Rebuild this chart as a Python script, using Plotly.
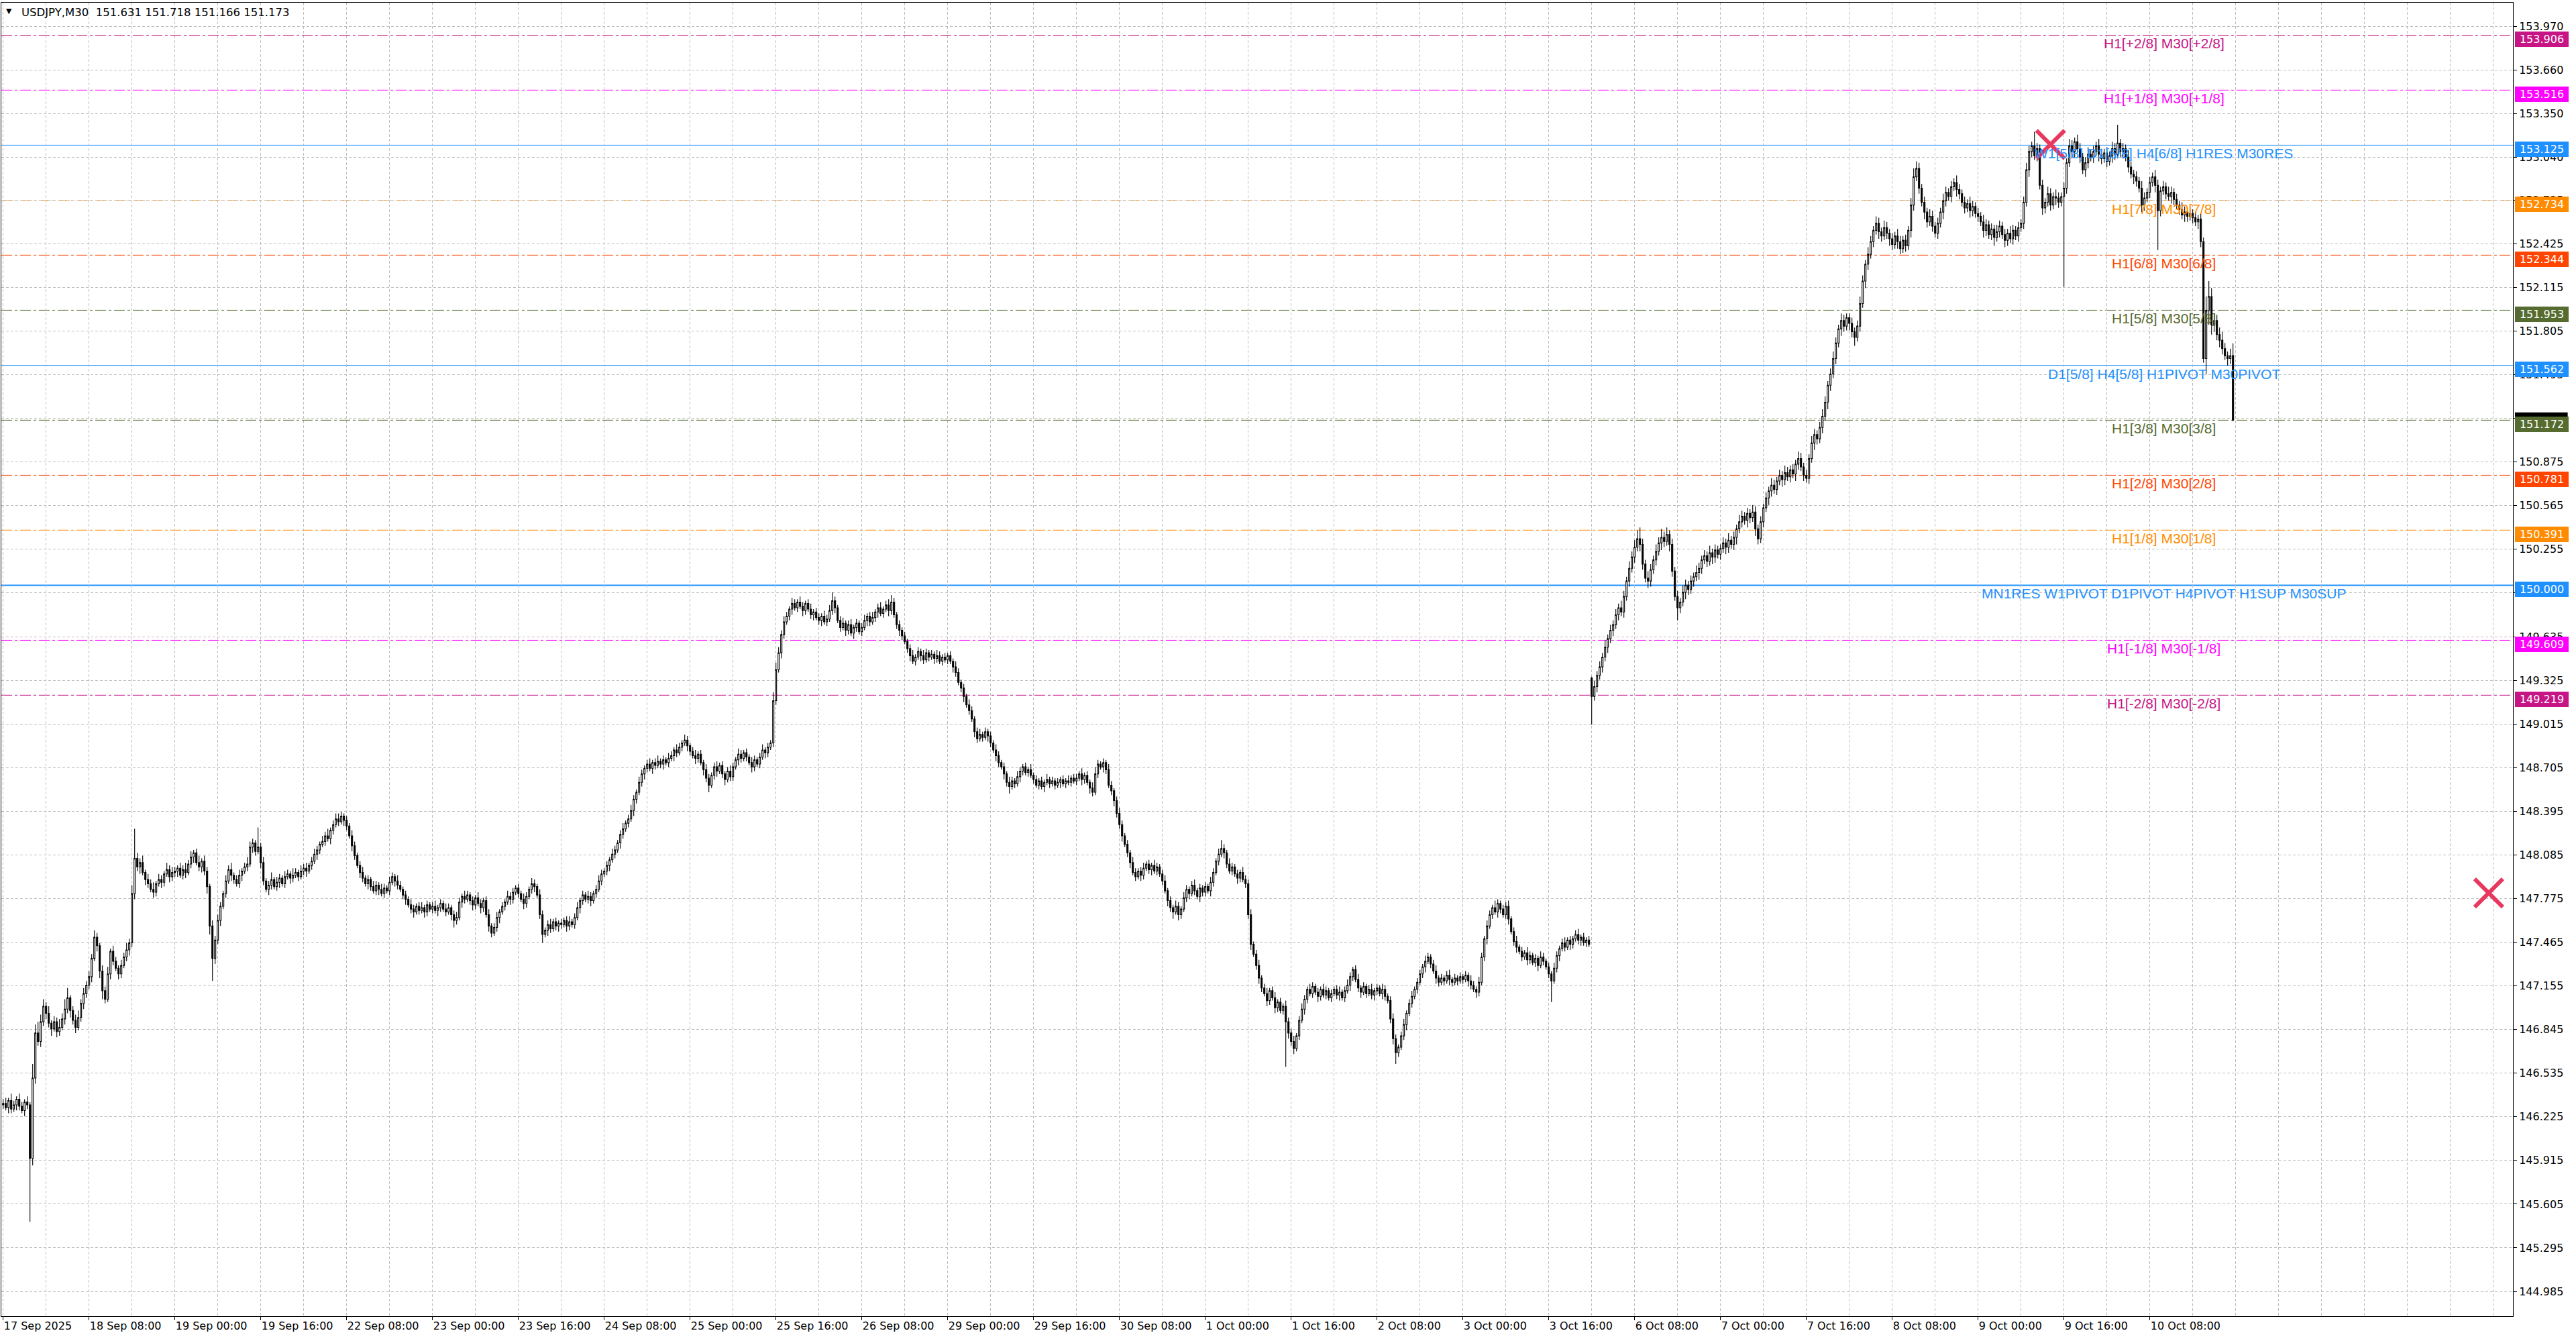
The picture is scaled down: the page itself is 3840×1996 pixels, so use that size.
import plotly.graph_objects as go

# ---------------- DATA ----------------
SYMBOL = "USDJPY,M30"
BASE = 145.00  # bar values below are hundredths of a yen above BASE

# closes, one per M30 bar (17 Sep 16:00 -> 10 Oct 23:30), rows of 16 bars
close_c = [
    132,129,134,128,131,135,130,127,133,131,93,150,182,176,190,201,
    196,189,185,190,183,186,192,199,207,198,191,186,193,203,210,216,
    222,235,250,244,226,212,206,224,240,233,228,224,230,236,241,246,
    281,306,300,303,296,291,288,284,282,288,291,289,295,298,293,296,
    297,299,294,298,296,302,307,310,303,300,304,297,286,258,235,248,
    262,272,281,290,298,294,291,288,294,297,300,302,314,317,311,314,
    303,290,284,287,291,286,289,292,288,293,295,292,294,296,293,297,
    299,297,301,304,309,312,316,318,322,320,326,330,334,332,336,333,
    329,322,315,308,301,296,292,288,291,286,283,287,284,281,285,283,
    289,293,290,287,284,280,277,273,270,268,272,269,271,268,273,270,
    272,269,271,274,270,268,271,266,262,264,275,279,277,280,276,273,
    278,274,271,276,266,258,253,257,264,268,272,275,279,277,282,285,
    281,277,274,279,284,288,286,280,266,252,255,259,256,261,258,260,
    259,262,258,261,259,264,271,276,280,277,279,276,281,284,290,295,
    297,301,305,309,312,317,323,327,331,334,340,348,353,360,366,370,
    373,370,374,372,375,373,376,374,377,379,383,381,385,388,390,386,
    382,379,377,380,374,369,363,358,365,371,368,372,366,362,368,364,
    371,376,380,377,381,378,374,371,376,373,378,383,381,385,388,418,
    440,452,465,474,478,483,487,484,488,485,482,487,483,479,481,477,
    475,478,474,476,482,489,484,475,470,473,468,472,466,470,473,467,
    470,475,478,474,477,481,484,480,483,486,482,488,479,472,468,464,
    460,455,450,446,449,453,450,447,452,449,451,448,450,446,449,447,
    450,446,442,438,431,427,421,415,411,405,396,391,394,392,396,393,
    388,383,379,374,371,366,360,357,361,359,364,368,371,367,369,365,
    362,358,361,357,360,362,359,361,358,360,362,359,361,360,363,361,
    363,366,362,365,360,356,353,366,373,371,374,369,358,354,347,338,
    330,322,316,310,303,296,293,297,294,299,302,298,301,297,300,295,
    290,283,276,271,268,272,266,270,278,284,281,287,283,279,285,282,
    286,283,289,296,304,309,313,310,302,297,300,295,292,296,291,288,
    266,245,238,230,221,214,210,205,212,207,200,204,198,201,190,182,
    176,171,180,191,199,206,213,210,215,211,208,213,209,212,207,210,
    213,209,211,207,212,216,222,227,220,214,211,215,210,213,209,212,
    214,210,213,208,205,192,178,168,172,180,188,196,203,208,213,218,
    224,229,233,236,231,226,221,218,221,219,223,220,218,221,219,222,
    220,223,219,216,213,211,218,236,249,258,266,271,268,274,270,266,
    272,263,254,247,243,240,236,239,234,237,232,235,230,236,233,229,
    224,219,228,237,242,246,243,248,245,249,252,248,250,246,248,245,
    421,428,436,442,449,456,462,468,472,479,484,481,492,503,512,520,
    527,533,529,515,505,503,511,518,524,530,534,531,536,529,510,492,
    484,488,495,500,497,503,506,509,512,518,521,517,523,520,525,522,
    526,530,527,532,529,534,540,545,549,546,551,548,552,540,533,545,
    555,562,567,571,568,574,578,575,580,577,582,579,586,590,584,578,
    576,590,601,607,604,612,620,630,642,650,661,672,682,688,684,690,
    686,680,676,684,700,716,728,735,744,752,757,751,748,754,750,746,
    742,748,744,739,745,741,752,770,790,796,782,772,765,758,762,755,
    750,757,765,773,779,776,783,786,781,778,772,768,771,766,769,764,
    762,758,752,756,749,753,747,751,755,749,745,750,746,752,748,754,
    757,772,795,808,812,805,810,784,768,772,778,770,776,775,772,776,
    782,800,812,808,815,810,804,795,800,806,804,808,812,806,803,807,
    801,805,810,806,814,808,810,804,797,792,790,787,782,770,775,779,
    786,790,784,766,780,783,778,776,779,774,770,767,763,765,762,764,
    761,758,760,744,661,695,705,685,688,678,674,668,663,661,663,617,
]

# upper wick above max(open, close), hundredths
upper_wick_c = [
    3,4,2,5,3,2,4,3,2,4,2,10,6,8,5,5,
    3,5,2,4,3,6,4,7,7,2,3,4,5,3,4,3,
    4,3,5,3,2,4,3,5,2,4,3,2,4,3,5,3,
    6,21,4,3,5,2,4,3,5,2,4,3,2,5,3,4,
    3,2,4,3,5,3,4,2,3,5,2,4,3,2,4,3,
    4,3,2,4,3,5,2,3,4,2,3,5,4,3,2,14,
    3,4,2,3,5,2,4,3,2,4,3,2,5,3,2,4,
    3,4,2,3,4,3,2,4,3,5,2,3,4,4,3,2,
    3,2,4,3,2,3,4,2,3,2,4,3,2,4,3,2,
    4,3,2,4,3,2,3,2,4,3,2,3,4,2,3,2,
    3,4,2,3,2,4,3,2,3,4,3,2,4,3,2,3,
    2,4,3,2,3,4,2,3,4,2,3,2,4,3,3,2,
    3,2,4,3,2,4,3,2,4,3,2,3,4,2,3,2,
    3,2,3,4,2,3,4,2,3,2,4,3,2,3,4,3,
    2,3,2,4,3,2,3,4,2,3,4,3,2,4,3,2,
    3,4,2,3,4,2,3,2,4,3,2,4,3,2,4,3,
    2,3,4,2,3,2,4,3,2,3,4,2,3,2,3,4,
    3,2,4,3,2,3,2,4,3,2,3,4,2,3,2,6,
    5,4,3,4,3,2,4,3,2,4,3,2,3,4,2,3,
    3,2,4,3,4,6,3,2,3,4,2,3,4,2,3,2,
    3,4,2,3,4,2,3,4,2,3,4,5,3,2,3,2,
    3,2,3,4,2,3,2,4,3,2,3,2,4,3,2,3,
    2,3,2,4,3,2,3,2,4,3,2,3,4,2,3,2,
    3,2,4,3,2,3,2,4,3,2,4,3,2,3,2,4,
    2,3,2,3,2,4,2,3,2,3,2,3,2,4,2,3,
    3,2,4,2,3,2,4,5,3,2,3,2,4,3,2,3,
    4,3,2,3,2,4,3,2,3,4,2,3,2,4,3,2,
    3,4,2,3,2,4,3,2,4,3,2,3,4,2,3,2,
    3,2,4,3,2,4,6,3,2,4,3,2,3,2,4,3,
    3,4,2,3,4,2,3,4,2,3,4,2,3,2,4,3,
    3,4,2,3,4,3,2,4,3,2,3,2,4,3,2,3,
    2,3,4,2,3,4,3,2,3,4,2,3,2,3,4,2,
    3,2,4,3,2,3,4,3,2,3,4,2,3,4,2,3,
    3,2,4,3,2,3,4,2,3,2,3,4,2,3,2,3,
    2,3,2,4,3,2,4,3,2,4,3,2,5,3,2,3,
    3,4,2,3,4,2,3,2,4,3,2,3,2,4,3,2,
    3,2,4,3,2,3,4,2,3,2,3,4,2,3,2,3,
    1,4,3,4,3,5,3,4,3,4,3,5,4,3,5,4,
    5,6,8,4,3,5,4,3,5,4,6,4,5,3,4,3,
    4,3,5,4,3,4,3,5,4,3,4,3,5,3,4,3,
    3,4,3,5,3,4,3,5,4,3,4,3,5,4,3,4,
    3,4,3,5,4,3,4,3,5,4,3,4,3,5,4,3,
    4,3,5,4,3,4,5,4,3,4,5,4,3,5,4,3,
    3,4,3,4,5,4,3,5,4,3,5,4,3,5,4,3,
    4,3,5,4,3,4,3,5,6,5,4,3,4,3,5,4,
    3,4,3,5,4,3,4,3,5,4,3,4,3,5,4,3,
    4,3,5,4,3,4,3,5,4,3,4,3,5,4,3,4,
    3,4,5,4,3,10,4,3,4,3,5,4,3,5,4,3,
    4,3,5,4,3,5,4,3,4,5,3,4,3,5,4,3,
    4,3,5,4,13,3,4,3,5,4,3,4,3,5,4,3,
    4,3,5,4,3,4,3,5,4,3,4,3,5,4,3,4,
    3,4,3,4,3,10,11,6,5,4,5,6,4,3,5,9,
]

# lower wick below min(open, close), hundredths
lower_wick_c = [
    3,2,4,3,2,4,3,2,4,3,45,5,4,3,4,3,
    4,3,5,2,4,3,2,4,3,5,3,4,2,3,4,3,
    3,4,2,4,5,6,3,2,4,3,2,4,3,2,3,4,
    3,4,3,5,2,4,3,2,4,3,2,4,3,2,4,3,
    3,4,2,3,4,2,3,4,2,3,4,3,5,6,16,4,
    3,4,2,3,2,4,3,2,3,4,2,3,2,4,3,2,
    4,3,2,4,3,2,3,4,2,3,2,4,3,2,3,2,
    3,4,2,3,2,4,3,2,3,2,4,3,2,3,2,4,
    3,2,4,3,2,4,3,2,4,3,2,3,4,2,3,2,
    3,2,4,3,2,3,4,2,3,4,2,3,2,4,3,2,
    3,2,4,3,2,3,2,4,5,3,2,4,3,2,3,4,
    3,2,4,3,2,4,3,2,3,4,2,3,2,4,3,2,
    3,2,4,3,2,3,4,2,3,6,2,4,3,2,3,4,
    3,2,4,3,2,3,2,4,3,2,3,4,2,3,2,3,
    2,3,4,2,3,2,4,3,2,3,2,4,3,2,3,4,
    3,2,4,3,2,3,4,2,3,2,4,3,2,3,2,4,
    3,2,4,3,2,4,3,5,2,3,4,2,3,4,2,3,
    3,2,4,3,2,3,2,4,3,2,3,2,4,3,2,3,
    3,2,4,3,2,3,4,2,3,2,4,3,2,3,4,2,
    3,4,2,3,2,3,4,2,3,2,4,3,2,4,3,2,
    3,2,4,3,2,3,4,2,3,2,4,3,2,3,4,3,
    2,3,4,2,3,2,4,3,2,3,2,4,3,2,3,2,
    3,2,4,3,2,3,4,2,3,2,4,3,2,3,2,4,
    3,2,4,3,2,4,3,5,2,3,2,4,3,2,3,2,
    3,2,3,2,4,2,3,2,3,2,4,2,3,2,3,2,
    3,2,4,3,2,4,3,2,3,2,4,3,2,3,4,3,
    3,4,2,3,4,2,3,2,4,3,2,3,4,2,3,2,
    3,2,4,3,5,2,4,3,2,3,4,2,3,2,4,3,
    3,2,4,3,2,3,2,4,3,2,3,2,4,3,2,3,
    3,4,2,3,4,3,2,4,3,2,4,3,2,3,32,4,
    3,4,2,3,2,4,3,2,3,2,4,3,2,3,2,3,
    2,3,4,2,3,2,4,3,2,3,4,2,3,2,3,4,
    3,2,4,3,2,3,4,8,3,2,3,4,2,3,2,3,
    2,3,4,2,3,2,4,3,2,3,2,4,3,2,3,2,
    3,2,4,3,2,4,3,2,3,4,2,3,2,4,3,2,
    3,4,2,3,4,2,3,2,4,3,2,3,4,2,3,2,
    3,15,2,3,4,2,3,2,4,3,2,3,4,2,3,2,
    20,3,4,3,4,3,4,3,4,3,4,3,4,3,4,3,
    4,3,5,4,3,5,4,3,4,3,5,4,3,5,4,3,
    9,4,3,5,4,3,4,3,5,4,3,4,3,5,4,3,
    4,3,5,4,3,4,5,3,4,3,5,4,3,5,4,3,
    4,3,5,4,3,4,3,5,4,3,4,3,5,4,3,4,
    3,4,3,5,4,3,4,3,5,4,3,4,3,5,4,3,
    5,4,6,3,4,3,5,4,3,4,3,5,4,3,4,5,
    4,3,5,4,3,4,3,5,4,3,4,3,5,4,3,4,
    3,4,3,5,4,3,4,3,5,4,3,4,3,5,4,3,
    4,3,5,4,3,4,6,3,4,3,5,4,3,4,3,4,
    3,4,3,5,4,3,4,3,5,4,3,4,3,5,4,3,
    64,4,3,5,4,3,4,3,5,4,3,4,3,5,4,3,
    4,3,5,4,3,4,5,3,4,3,5,4,3,5,4,3,
    4,3,5,28,4,3,4,3,5,4,3,4,3,5,4,3,
    4,3,5,4,3,11,10,7,5,4,5,4,3,5,4,0,
]

FIRST_OPEN_C = 131          # open of the first visible bar
SESSION_OPEN_C = {592: 434}  # Monday 6 Oct open (weekend gap)
LAST_OHLC = [151.631, 151.718, 151.166, 151.173]  # from the chart header

# x-axis time labels (bar index of each label) and texts
x_tick_bars = [0, 32, 64, 96, 128, 160, 192, 224, 256, 288, 320, 352, 384,
               416, 448, 480, 512, 544, 576, 608, 640, 672, 704, 736, 768, 800]
x_tick_texts = ["17 Sep 2025", "18 Sep 08:00", "19 Sep 00:00", "19 Sep 16:00",
                "22 Sep 08:00", "23 Sep 00:00", "23 Sep 16:00", "24 Sep 08:00",
                "25 Sep 00:00", "25 Sep 16:00", "26 Sep 08:00", "29 Sep 00:00",
                "29 Sep 16:00", "30 Sep 08:00", "1 Oct 00:00", "1 Oct 16:00",
                "2 Oct 08:00", "3 Oct 00:00", "3 Oct 16:00", "6 Oct 08:00",
                "7 Oct 00:00", "7 Oct 16:00", "8 Oct 08:00", "9 Oct 00:00",
                "9 Oct 16:00", "10 Oct 08:00"]
x_grid_bars = [16 * k for k in range(1, 59)]

# price axis labels
y_ticks = [153.970, 153.660, 153.350, 153.040, 152.735, 152.425, 152.115, 151.805,
           151.495, 151.185, 150.875, 150.565, 150.255, 149.945, 149.635, 149.325,
           149.015, 148.705, 148.395, 148.085, 147.775, 147.465, 147.155, 146.845,
           146.535, 146.225, 145.915, 145.605, 145.295, 144.985]

# Murrey-math style levels
levels = [153.906, 153.516, 153.125, 152.734, 152.344, 151.953, 151.562,
          151.172, 150.781, 150.391, 150.000, 149.609, 149.219]
level_texts = ["H1[+2/8] M30[+2/8]", "H1[+1/8] M30[+1/8]",
               "W1[5/8] D1[6/8] H4[6/8] H1RES M30RES", "H1[7/8] M30[7/8]",
               "H1[6/8] M30[6/8]", "H1[5/8] M30[5/8]",
               "D1[5/8] H4[5/8] H1PIVOT M30PIVOT", "H1[3/8] M30[3/8]",
               "H1[2/8] M30[2/8]", "H1[1/8] M30[1/8]",
               "MN1RES W1PIVOT D1PIVOT H4PIVOT H1SUP M30SUP",
               "H1[-1/8] M30[-1/8]", "H1[-2/8] M30[-2/8]"]
level_colors = ["#C71585", "#FF00FF", "#1E90FF", "#FF8C00", "#FF4500", "#556B2F",
                "#1E90FF", "#556B2F", "#FF4500", "#FF8C00", "#1E90FF", "#FF00FF",
                "#C71585"]
level_dash = ["dd", "dd", "solid", "dd", "dd", "dd", "solid", "dd", "dd", "dd",
              "solid", "dd", "dd"]
level_width = [1, 1, 1, 1, 1, 1, 1, 1, 1, 1, 2, 1, 1]
LABEL_BAR = 805.3  # where the level texts are centred

# cross markers (bar index, price)
cross_x = [763.0, 926.3]
cross_y = [153.13, 147.815]

# ---------------- BUILD ----------------
n = len(close_c)
bars = list(range(n))
opens, highs, lows, closes = [], [], [], []
for i in range(n):
    if i == 0:
        o = FIRST_OPEN_C
    elif i in SESSION_OPEN_C:
        o = SESSION_OPEN_C[i]
    else:
        o = close_c[i - 1]
    c = close_c[i]
    opens.append(BASE + o / 100)
    closes.append(BASE + c / 100)
    highs.append(BASE + (max(o, c) + upper_wick_c[i]) / 100)
    lows.append(BASE + (min(o, c) - lower_wick_c[i]) / 100)
opens[-1], highs[-1], lows[-1], closes[-1] = LAST_OHLC

GRID = "#BDBDBD"
GRID_DASH = "4px,3px"
TICK_FONT = dict(family="DejaVu Sans", size=16, color="black")

fig = go.Figure()
fig.add_trace(go.Candlestick(
    x=bars, open=opens, high=highs, low=lows, close=closes,
    increasing=dict(line=dict(color="black", width=1.1), fillcolor="white"),
    decreasing=dict(line=dict(color="black", width=1.1), fillcolor="black"),
    whiskerwidth=0, hoverinfo="skip", showlegend=False,
))
fig.add_trace(go.Scatter(
    x=cross_x, y=cross_y, mode="markers", hoverinfo="skip", showlegend=False,
    marker=dict(symbol="x-thin", size=42, color="#E8385E",
                line=dict(width=6, color="#E8385E")),
))

shapes = []
annotations = []
for lv, col, ds, w in zip(levels, level_colors, level_dash, level_width):
    shapes.append(dict(
        type="line", xref="paper", x0=0, x1=1, yref="y", y0=lv, y1=lv,
        layer="between",
        line=dict(color=col, width=w, dash=("solid" if ds == "solid" else "16px,4px,4px,4px")),
    ))

# current price marker box on the price scale (mostly hidden under the level box)
shapes.append(dict(
    type="rect", xref="paper", yref="y", x0=1.0008, x1=1.0218,
    y0=LAST_OHLC[3] - 0.054, y1=LAST_OHLC[3] + 0.054,
    fillcolor="black", line=dict(color="black", width=0), layer="above",
))

for lv, txt, col in zip(levels, level_texts, level_colors):
    annotations.append(dict(
        x=LABEL_BAR, y=lv, xref="x", yref="y", text=txt, showarrow=False,
        xanchor="center", yanchor="top", yshift=1,
        font=dict(family="Liberation Sans", size=21, color=col),
    ))

for lv, col in zip(levels, level_colors):
    annotations.append(dict(
        x=1, y=lv, xref="paper", yref="y", text="%.3f" % lv, showarrow=False,
        xanchor="left", yanchor="middle", xshift=3, yshift=-6,
        bgcolor=col, bordercolor=col, borderwidth=1, borderpad=1, width=76,
        font=dict(family="DejaVu Sans", size=16, color="white"),
    ))

# header
annotations.append(dict(
    x=0, y=1, xref="paper", yref="paper", text="▼", showarrow=False,
    xanchor="left", yanchor="top", xshift=5, yshift=-4,
    font=dict(family="DejaVu Sans", size=11, color="black"),
))
annotations.append(dict(
    x=0, y=1, xref="paper", yref="paper",
    text="%s  %.3f %.3f %.3f %.3f" % (SYMBOL, *LAST_OHLC), showarrow=False,
    xanchor="left", yanchor="top", xshift=28, yshift=-3,
    font=dict(family="DejaVu Sans", size=16.5, color="black"),
))

fig.update_layout(
    width=3840, height=1996,
    margin=dict(l=2, r=94, t=4, b=34),
    paper_bgcolor="white", plot_bgcolor="white",
    showlegend=False, hovermode=False,
    shapes=shapes, annotations=annotations,
    xaxis=dict(
        range=[-0.675, 935.325], rangeslider=dict(visible=False),
        tickmode="array", tickvals=x_tick_bars, ticktext=x_tick_texts,
        ticklabelposition="outside right",
        ticks="outside", ticklen=5, tickcolor="black", tickwidth=1,
        tickfont=TICK_FONT,
        showgrid=True, gridcolor=GRID, gridwidth=1, griddash=GRID_DASH,
        minor=dict(tickmode="array", tickvals=x_grid_bars, showgrid=True,
                   gridcolor=GRID, gridwidth=1, griddash=GRID_DASH, ticks=""),
        showline=True, linecolor="black", linewidth=1, mirror=True,
        zeroline=False, fixedrange=True,
    ),
    yaxis=dict(
        side="right", range=[144.809, 154.137],
        tickmode="array", tickvals=y_ticks, ticktext=["%.3f" % v for v in y_ticks],
        ticks="outside", ticklen=5, tickcolor="black", tickwidth=1,
        tickfont=TICK_FONT,
        showgrid=True, gridcolor=GRID, gridwidth=1, griddash=GRID_DASH,
        showline=True, linecolor="black", linewidth=1, mirror=True,
        zeroline=False, fixedrange=True,
    ),
)

fig.write_html("out.html", config={"displayModeBar": False},
               post_script="document.body.style.margin='0';document.body.style.overflow='hidden';")
